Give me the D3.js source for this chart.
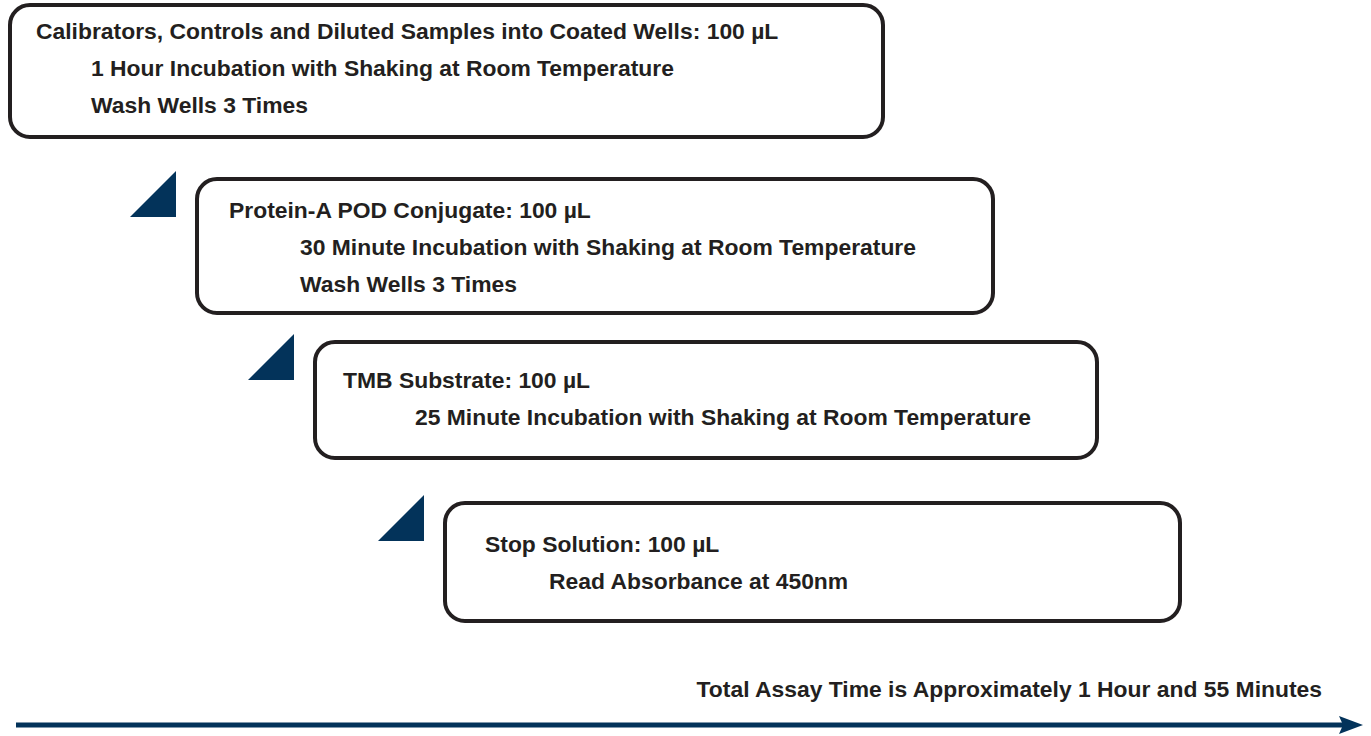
<!DOCTYPE html>
<html>
<head>
<meta charset="utf-8">
<script src="https://cdn.jsdelivr.net/npm/d3@7"></script>
<style>
  html, body { margin: 0; padding: 0; background: #fff; }
  svg { display: block; }
  text { font-family: "Liberation Sans", Arial, Helvetica, sans-serif; font-weight: 700; fill: #231f20; }
</style>
</head>
<body>
<svg id="chart" width="1371" height="736"></svg>
<script>
// ---- data ----
const stepTitles = [
  "Calibrators, Controls and Diluted Samples into Coated Wells: 100 µL",
  "Protein-A POD Conjugate: 100 µL",
  "TMB Substrate: 100 µL",
  "Stop Solution: 100 µL"
];
const stepDetails = [
  ["1 Hour Incubation with Shaking at Room Temperature", "Wash Wells 3 Times"],
  ["30 Minute Incubation with Shaking at Room Temperature", "Wash Wells 3 Times"],
  ["25 Minute Incubation with Shaking at Room Temperature"],
  ["Read Absorbance at 450nm"]
];
const totalLabel = "Total Assay Time is Approximately 1 Hour and 55 Minutes";

// ---- layout (pixels) ----
const boxLeft   = [10, 197, 315, 445];
const boxRight  = [883, 993, 1097, 1180];
const boxTop    = [5, 179, 342, 503];
const boxBottom = [137, 313, 458, 621];
const titleX    = [36, 229, 343, 485];
const detailX   = [91, 300, 415, 549];
const titleBase = [39, 218, 388, 552];
const lineGap = 37;
const navy = "#03335a";

const svg = d3.select("#chart");
const steps = stepTitles.map((t, i) => ({ i, title: t, details: stepDetails[i] }));

// fit font size so the first title spans its reference width
const probe = svg.append("text").attr("font-size", 20).text(stepTitles[0]);
const w20 = probe.node().getComputedTextLength();
probe.remove();
const fs = Math.max(16, Math.min(24, 20 * 743 / w20));

// triangles between boxes
svg.append("g").selectAll("path")
  .data(steps.slice(1))
  .join("path")
  .attr("fill", navy)
  .attr("d", d => {
    const rx = boxLeft[d.i] - 21;
    const by = boxTop[d.i] + 38;
    const s = 46;
    return d3.line()([[rx - s, by], [rx, by - s], [rx, by]]) + "Z";
  });

// boxes
const g = svg.append("g").selectAll("g")
  .data(steps)
  .join("g");

g.append("rect")
  .attr("x", d => boxLeft[d.i])
  .attr("y", d => boxTop[d.i])
  .attr("width", d => boxRight[d.i] - boxLeft[d.i])
  .attr("height", d => boxBottom[d.i] - boxTop[d.i])
  .attr("rx", 20).attr("ry", 20)
  .attr("fill", "#fff")
  .attr("stroke", "#231f20")
  .attr("stroke-width", 4);

g.append("text")
  .attr("x", d => titleX[d.i])
  .attr("y", d => titleBase[d.i])
  .attr("font-size", fs)
  .text(d => d.title);

g.selectAll("text.detail")
  .data(d => d.details.map((t, j) => ({ t, j, i: d.i })))
  .join("text")
  .attr("class", "detail")
  .attr("x", d => detailX[d.i])
  .attr("y", d => titleBase[d.i] + (d.j + 1) * lineGap)
  .attr("font-size", fs)
  .text(d => d.t);

// total time label
svg.append("text")
  .attr("x", 1322)
  .attr("y", 697)
  .attr("text-anchor", "end")
  .attr("font-size", fs)
  .text(totalLabel);

// timeline arrow
const x = d3.scaleLinear().domain([0, 1]).range([16, 1363]);
svg.append("line")
  .attr("x1", x(0)).attr("x2", x(1) - 18)
  .attr("y1", 725).attr("y2", 725)
  .attr("stroke", navy).attr("stroke-width", 5);
svg.append("path")
  .attr("fill", navy)
  .attr("d", d3.line()([[x(1), 725], [x(1) - 24, 716], [x(1) - 20, 725], [x(1) - 24, 734]]) + "Z");
</script>
</body>
</html>
